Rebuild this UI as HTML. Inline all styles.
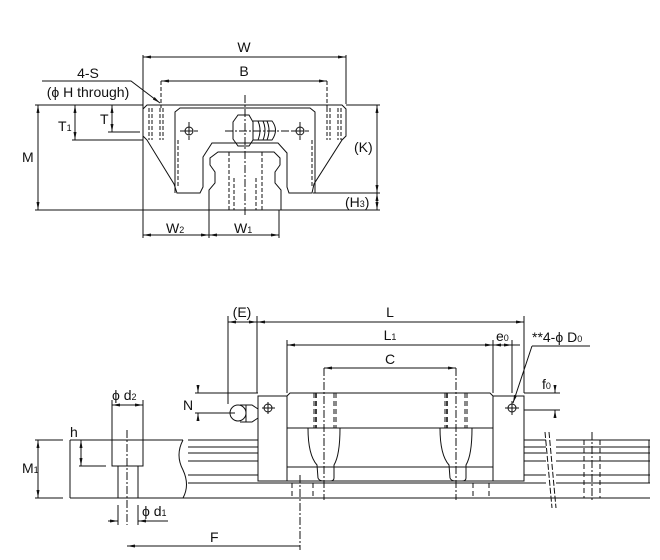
<!DOCTYPE html>
<html><head><meta charset="utf-8"><style>
html,body{margin:0;padding:0;background:#fff}
svg{display:block}
text{font-family:"Liberation Sans",sans-serif;font-size:14px;fill:#111}
.s{font-size:9px}
</style></head><body>
<svg width="660" height="560" viewBox="0 0 660 560" xmlns="http://www.w3.org/2000/svg">
<defs>
<marker id="a" viewBox="0 0 8 6" refX="8" refY="3" markerWidth="8" markerHeight="6" orient="auto-start-reverse"><path d="M0,1.5 L8,3 L0,4.5z" fill="#111"/></marker>
</defs>
<g stroke="#111" stroke-width="1" fill="none">
<!-- TOP VIEW -->
<path d="M147,105 L342,105 L346,109 L346,136 L342,140 L314,184 L312,193 L289,193 L287,187 L287,153 L278,143 L212,143 L203,157 L203,187 L200,193 L177,193 L174,184 L147,140 L143,136 L143,109 Z"/>
<path d="M175,193 L175,112 L180,108 L310,108 L315,112 L315,193"/>
<path d="M218,152 L274,152 L280,158 L280,165 L275,172 L275,183 L281,190 L281,210 L209,210 L209,190 L215,183 L215,172 L210,165 L210,158 Z"/>
<g stroke-dasharray="4,2">
<path d="M149,108V140M152,108V140M160,108V140M163,108V140M327,108V140M330,108V140M338,108V140M341,108V140"/>
<path d="M178,140V188M312,140V188M229,152V210M262,152V210M234,178V210M256,178V210"/>
<path d="M161,81V108M327,81V108"/>
</g>
<path d="M245,95V215M225,131H290M180,131H198M291,131H309M189,122V140M300,122V140" stroke-dasharray="8,2,2,2"/>
<circle cx="189" cy="131" r="4"/><circle cx="300" cy="131" r="4"/>
<path d="M185,131H193M189,127V135M296,131H304M300,127V135"/>
<path d="M238,115 L249,115 L253,122 L253,140 L249,146 L238,146 L233,139 L233,122 Z"/>
<path d="M253,121 L272,121 Q279,130 272,140 L253,140"/>
<path d="M258,121Q262,130 258,140M263,121Q267,130 263,140M267,121Q271,130 267,140"/>
<path d="M143,55V238M346,55V104M209,210V238M279,210V238"/>
<path d="M143,57H346" marker-start="url(#a)" marker-end="url(#a)"/>
<path d="M161,81H327" marker-start="url(#a)" marker-end="url(#a)"/>
<path d="M143,235H209" marker-start="url(#a)" marker-end="url(#a)"/>
<path d="M209,235H279" marker-start="url(#a)" marker-end="url(#a)"/>
<path d="M35,105H143M35,210H380M72,140H143M108,132H140M346,105H380M313,193H380"/>
<path d="M38,105V210" marker-start="url(#a)" marker-end="url(#a)"/>
<path d="M75,105V140" marker-start="url(#a)" marker-end="url(#a)"/>
<path d="M112,105V132" marker-start="url(#a)" marker-end="url(#a)"/>
<path d="M377,105V193" marker-start="url(#a)" marker-end="url(#a)"/>
<path d="M377,193V210" marker-start="url(#a)" marker-end="url(#a)"/>
<path d="M42,81H131L160,103" marker-end="url(#a)"/>

<!-- BOTTOM VIEW -->
<path d="M70,440V498M70,440H183M70,498H650M183,440 Q175,455 183,470 Q190,485 183,498"/>
<path d="M188,440H258M188,447H258M188,453H258M188,461H258M188,475H258M188,483H546"/>
<path d="M524,440H546M524,447H546M524,453H546M524,461H546M524,475H546"/>
<path d="M556,440H650M556,447H650M556,453H650M556,461H650M556,475H650M556,483H650M649,440V483"/>
<path d="M545,432L552,508M549,432L556,508" stroke-dasharray="6,2"/>
<path d="M112,440V466H143V440M118,466V498M138,466V498"/>
<path d="M127,430V525" stroke-dasharray="8,2,2,2"/>
<rect x="258" y="396" width="29" height="85" fill="#fff"/>
<rect x="493" y="396" width="31" height="85" fill="#fff"/>
<path d="M287,396 L290,393 H490 L493,396 M287,428H493M287,467H493M287,481H493"/>
<path d="M308,428Q308,455 317,465 L318,478 Q319,481 324,481 L330,481 Q334,481 334,478 L334,465 Q340,455 340,428"/>
<path d="M440,428Q440,455 449,465 L450,478 Q451,481 456,481 L462,481 Q466,481 466,478 L466,465 Q472,455 472,428"/>
<g stroke-dasharray="5,3">
<path d="M314,393V428M334,393V428M336,393V428M445,393V428M465,393V428M467,393V428"/>
<path d="M292,483V498M313,483V498M473,483V498M489,483V498M584,440V498M600,440V498M575,461H603"/>
</g>
<path d="M316,393V428M447,393V428" stroke-width="1.6" stroke-dasharray="5,3"/>
<path d="M324,368V500M456,368V500M300,475V550M592,432V500" stroke-dasharray="8,2,2,2"/>
<circle cx="238" cy="413" r="8"/>
<path d="M240,405H252L258,409V418L252,422H240M246,405V422"/>
<circle cx="268" cy="408" r="4"/><circle cx="512" cy="408" r="4"/>
<path d="M262,408H275M268,402V414M505,408H519M512,401V415"/>
<path d="M228,316V404M257,316V393M287,340V393M493,340V393M512,340V393M524,316V393"/>
<path d="M228,322H257" marker-start="url(#a)" marker-end="url(#a)"/>
<path d="M257,322H524" marker-start="url(#a)" marker-end="url(#a)"/>
<path d="M287,345H493" marker-start="url(#a)" marker-end="url(#a)"/>
<path d="M493,345H512" marker-start="url(#a)" marker-end="url(#a)"/>
<path d="M512,345H520"/>
<path d="M324,368H456" marker-start="url(#a)" marker-end="url(#a)"/>
<path d="M532,346H590M532,346L513,403" marker-end="url(#a)"/>
<path d="M524,393H560M524,410H560"/>
<path d="M555,385V393" marker-end="url(#a)"/>
<path d="M555,418V410" marker-end="url(#a)"/>
<path d="M195,393H258M195,413H235"/>
<path d="M198,385V393" marker-end="url(#a)"/>
<path d="M198,421V413" marker-end="url(#a)"/>
<path d="M35,440H63M35,498H63M79,466H106M112,400V440M143,400V440M118,505V525M138,505V525"/>
<path d="M38,440V498" marker-start="url(#a)" marker-end="url(#a)"/>
<path d="M81,440V466" marker-start="url(#a)" marker-end="url(#a)"/>
<path d="M112,405H143" marker-start="url(#a)" marker-end="url(#a)"/>
<path d="M108,521H118" marker-end="url(#a)"/>
<path d="M168,521H138" marker-end="url(#a)"/>
<path d="M300,546H127" marker-end="url(#a)"/>
</g>
<g>
<text x="244" y="52" text-anchor="middle">W</text>
<text x="244" y="76" text-anchor="middle">B</text>
<text x="88" y="78" text-anchor="middle">4-S</text>
<text x="88" y="97" text-anchor="middle">(ϕ H through)</text>
<text x="58" y="131">T<tspan class="s">1</tspan></text>
<text x="100" y="124">T</text>
<text x="22" y="162">M</text>
<text x="354" y="152">(K)</text>
<text x="345" y="207">(H<tspan class="s">3</tspan>)</text>
<text x="166" y="233">W<tspan class="s">2</tspan></text>
<text x="234" y="233">W<tspan class="s">1</tspan></text>
<text x="242" y="317" text-anchor="middle">(E)</text>
<text x="390" y="317" text-anchor="middle">L</text>
<text x="390" y="340" text-anchor="middle">L<tspan class="s">1</tspan></text>
<text x="390" y="364" text-anchor="middle">C</text>
<text x="496" y="341" font-size="12">e<tspan class="s">0</tspan></text>
<text x="532" y="342">**4-ϕ D<tspan class="s">0</tspan></text>
<text x="542" y="389">f<tspan class="s">0</tspan></text>
<text x="183" y="410">N</text>
<text x="112" y="400">ϕ d<tspan class="s">2</tspan></text>
<text x="70" y="437">h</text>
<text x="22" y="473">M<tspan class="s">1</tspan></text>
<text x="142" y="516">ϕ d<tspan class="s">1</tspan></text>
<text x="210" y="542">F</text>
</g>
</svg>
</body></html>
